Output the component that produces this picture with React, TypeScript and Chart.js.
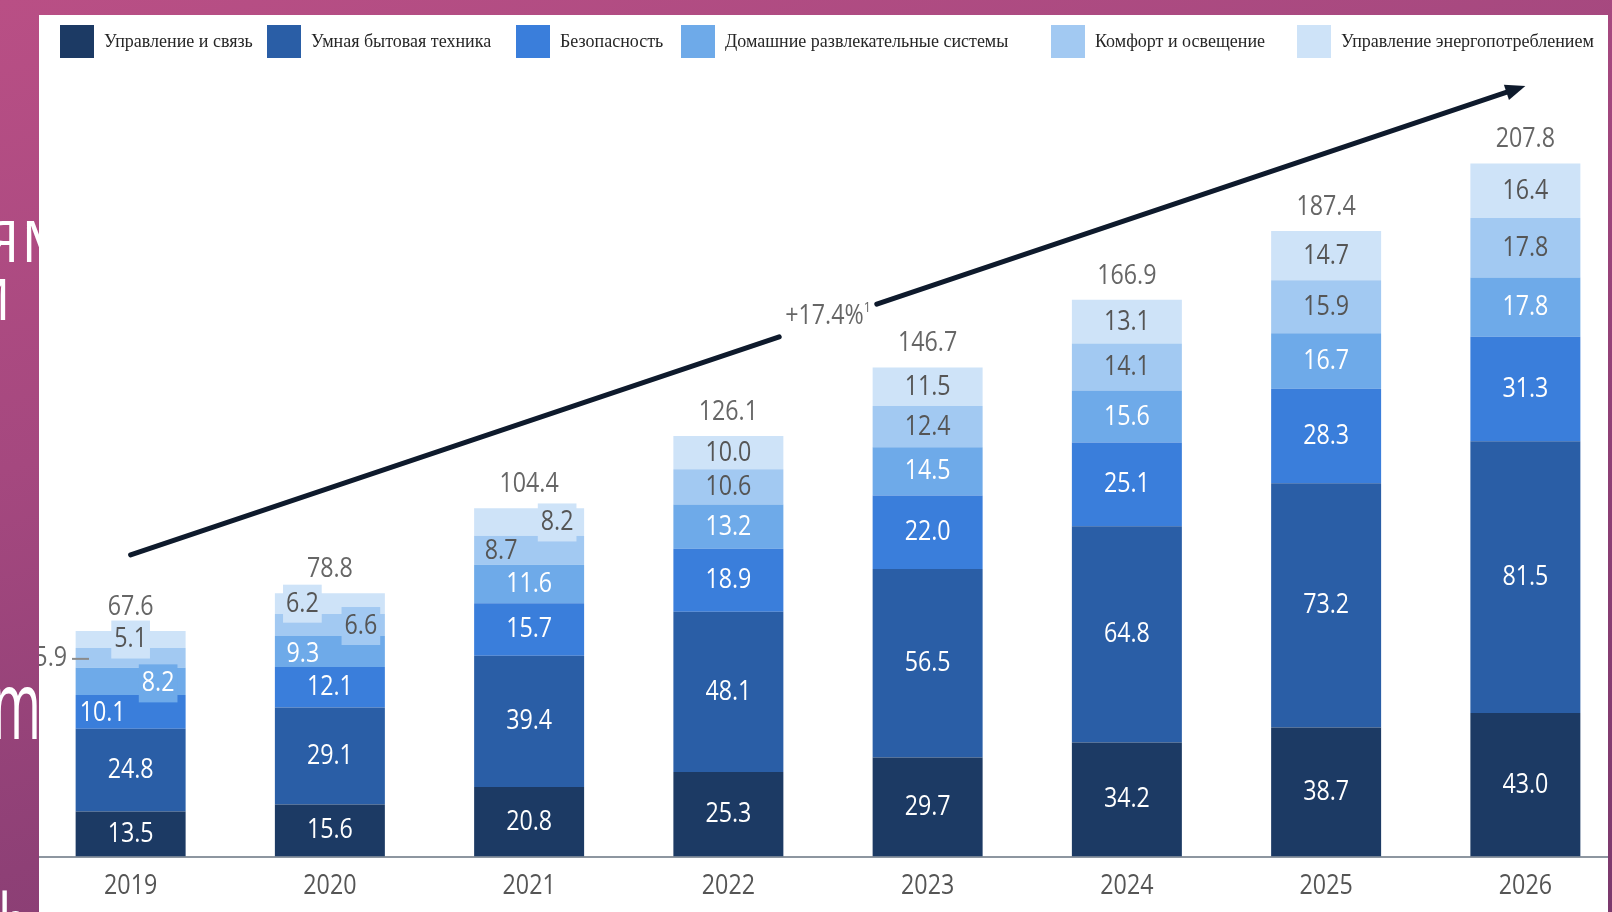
import React, { useEffect, useRef } from "react";
import { Chart, registerables } from "chart.js";

Chart.register(...registerables);

// ---------- data ----------
const YEARS = ["2019", "2020", "2021", "2022", "2023", "2024", "2025", "2026"];
const CONTROL = [13.5, 15.6, 20.8, 25.3, 29.7, 34.2, 38.7, 43.0];
const APPLIANCES = [24.8, 29.1, 39.4, 48.1, 56.5, 64.8, 73.2, 81.5];
const SECURITY = [10.1, 12.1, 15.7, 18.9, 22.0, 25.1, 28.3, 31.3];
const ENTERTAINMENT = [8.2, 9.3, 11.6, 13.2, 14.5, 15.6, 16.7, 17.8];
const COMFORT = [5.9, 6.6, 8.7, 10.6, 12.4, 14.1, 15.9, 17.8];
const ENERGY = [5.1, 6.2, 8.2, 10.0, 11.5, 13.1, 14.7, 16.4];
const TOTALS = [67.6, 78.8, 104.4, 126.1, 146.7, 166.9, 187.4, 207.8];
const SERIES_NAMES = [
  "Управление и связь",
  "Умная бытовая техника",
  "Безопасность",
  "Домашние развлекательные системы",
  "Комфорт и освещение",
  "Управление энергопотреблением",
];
const CAGR_TEXT = "+17.4%";
const CAGR_NOTE = "1";
const ARROW_START = 90.4;
const ARROW_END = 231;
const Y_MAX = 234;

// ---------- styles / layout ----------
const SERIES = [CONTROL, APPLIANCES, SECURITY, ENTERTAINMENT, COMFORT, ENERGY];
const COLORS = ["#1c3a64", "#2a5ea6", "#3a7edb", "#6eaae9", "#a2c9f2", "#cee3f8"];
const LABEL_COLORS = ["#ffffff", "#ffffff", "#ffffff", "#ffffff", "#555555", "#555555"];
const LEGEND_LEFT = [60, 267, 516, 681, 1051, 1297];
const FONT = '"Open Sans", "Noto Sans", sans-serif';
const SQUEEZE = 0.83;
const LABEL_SIZE = 28;

type Tweak = { dx?: number; dy?: number; box?: boolean; align?: CanvasTextAlign; leader?: [number, number] };
// key: yearIndex-seriesIndex
const LABEL_TWEAKS: Record<string, Tweak> = {
  "0-2": { dx: -28, dy: 1 },
  "0-3": { dx: 27.5, dy: 2, box: true },
  "0-4": { dx: -63.6, dy: 0, align: "right", leader: [-58.6, -41.6] },
  "0-5": { dx: 0, dy: 0, box: true },
  "1-3": { dx: -27, dy: 2.5 },
  "1-4": { dx: 31, dy: 1, box: true },
  "1-5": { dx: -27.5, dy: 0, box: true },
  "2-4": { dx: -28, dy: 1 },
  "2-5": { dx: 28, dy: 0.5, box: true },
};

function measure(ctx: CanvasRenderingContext2D, text: string, size: number) {
  ctx.save();
  ctx.font = `${size}px ${FONT}`;
  const w = ctx.measureText(text).width * SQUEEZE;
  ctx.restore();
  return w;
}

function drawText(
  ctx: CanvasRenderingContext2D,
  text: string,
  x: number,
  y: number,
  size: number,
  color: string,
  align: CanvasTextAlign
) {
  ctx.save();
  ctx.font = `${size}px ${FONT}`;
  ctx.fillStyle = color;
  ctx.textBaseline = "middle";
  ctx.textAlign = align;
  ctx.translate(x, y);
  ctx.scale(SQUEEZE, 1);
  ctx.fillText(text, 0, 0);
  ctx.restore();
}

const overlayPlugin = {
  id: "overlay",
  afterDatasetsDraw(chart: any) {
    const ctx: CanvasRenderingContext2D = chart.ctx;
    const xs = chart.scales.x;
    const ys = chart.scales.y;
    const LS = LABEL_SIZE;

    // segment labels
    chart.data.datasets.forEach((ds: any, i: number) => {
      const meta = chart.getDatasetMeta(i);
      meta.data.forEach((el: any, j: number) => {
        const p = el.getProps(["x", "y", "base"], true);
        const text = Number(ds.data[j]).toFixed(1);
        const tw = LABEL_TWEAKS[`${j}-${i}`] || {};
        const cx = p.x + (tw.dx || 0);
        const cy = (p.y + p.base) / 2 + (tw.dy || 0);
        const align = tw.align || "center";
        if (tw.box) {
          const w = measure(ctx, text, LS) + 6;
          ctx.fillStyle = COLORS[i];
          ctx.fillRect(cx - w / 2, cy - 19, w, 38);
        }
        if (tw.leader) {
          ctx.save();
          ctx.strokeStyle = "#8a8a8a";
          ctx.lineWidth = 2;
          ctx.beginPath();
          ctx.moveTo(p.x + tw.leader[0], cy + 1);
          ctx.lineTo(p.x + tw.leader[1], cy + 1);
          ctx.stroke();
          ctx.restore();
        }
        const color = tw.leader ? "#666666" : LABEL_COLORS[i];
        drawText(ctx, text, cx, cy, LS, color, align);
      });
    });

    // totals
    const last = chart.getDatasetMeta(SERIES.length - 1);
    last.data.forEach((el: any, j: number) => {
      drawText(ctx, TOTALS[j].toFixed(1), el.x, el.y - 24, LS, "#666666", "center");
    });

    // year labels
    YEARS.forEach((yr, j) => {
      drawText(ctx, yr, xs.getPixelForValue(j), chart.chartArea.bottom + 30, 28, "#555555", "center");
    });

    // growth arrow
    const x0 = xs.getPixelForValue(0);
    const y0 = ys.getPixelForValue(ARROW_START);
    const x1 = xs.getPixelForValue(YEARS.length - 1);
    const y1 = ys.getPixelForValue(ARROW_END);
    const dx = x1 - x0;
    const dy = y1 - y0;
    const len = Math.hypot(dx, dy);
    const ux = dx / len;
    const uy = dy / len;
    const t = 0.5;
    const lx = x0 + dx * t;
    const ly = y0 + dy * t;
    const mainW = measure(ctx, CAGR_TEXT, LS);
    const supW = measure(ctx, CAGR_NOTE, 15);
    const labelW = mainW + supW;
    const gapHalf = (labelW / 2 + 6) / ux;
    const headLen = 20;
    const headHalf = 8;

    ctx.save();
    ctx.strokeStyle = "#0e1a2c";
    ctx.fillStyle = "#0e1a2c";
    ctx.lineWidth = 5;
    ctx.lineCap = "round";
    ctx.beginPath();
    ctx.moveTo(x0, y0);
    ctx.lineTo(x0 + ux * (len * t - gapHalf), y0 + uy * (len * t - gapHalf));
    ctx.moveTo(x0 + ux * (len * t + gapHalf), y0 + uy * (len * t + gapHalf));
    ctx.lineTo(x1 - ux * (headLen - 2), y1 - uy * (headLen - 2));
    ctx.stroke();
    ctx.beginPath();
    ctx.moveTo(x1, y1);
    ctx.lineTo(x1 - ux * headLen - uy * headHalf, y1 - uy * headLen + ux * headHalf);
    ctx.lineTo(x1 - ux * headLen + uy * headHalf, y1 - uy * headLen - ux * headHalf);
    ctx.closePath();
    ctx.fill();
    ctx.restore();

    const sx = lx - labelW / 2;
    drawText(ctx, CAGR_TEXT, sx, ly - 4, LS, "#666666", "left");
    drawText(ctx, CAGR_NOTE, sx + mainW, ly - 13, 15, "#666666", "left");
  },
};

export default function App() {
  const ref = useRef<HTMLCanvasElement | null>(null);

  useEffect(() => {
    if (!ref.current) return;
    const chart = new Chart(ref.current, {
      type: "bar",
      data: {
        labels: YEARS,
        datasets: SERIES.map((d, i) => ({
          label: SERIES_NAMES[i],
          data: d,
          backgroundColor: COLORS[i],
          borderWidth: 0,
          barPercentage: 0.552,
          categoryPercentage: 1,
        })),
      },
      options: {
        responsive: false,
        animation: false,
        layout: { padding: { left: 0, right: 0, top: 61, bottom: 55.5 } },
        plugins: {
          legend: { display: false },
          tooltip: { enabled: false },
          title: { display: false },
        },
        scales: {
          x: {
            stacked: true,
            grid: { display: false, drawTicks: false },
            border: { display: true, color: "#8d96a0", width: 2 },
            ticks: { display: false },
          },
          y: {
            stacked: true,
            display: false,
            min: 0,
            max: Y_MAX,
          },
        },
      },
      plugins: [overlayPlugin],
    });
    return () => chart.destroy();
  }, []);

  const white = "#ffffff";
  return (
    <div
      style={{
        position: "absolute",
        left: 0,
        top: 0,
        width: 1612,
        height: 912,
        overflow: "hidden",
        background: "linear-gradient(165deg, #b94f85 0%, #a5487f 35%, #8e4076 65%, #7b396d 100%)",
        fontFamily: FONT,
      }}
    >
      <span style={{ position: "absolute", left: -16, top: 212, fontSize: 56, lineHeight: 1, color: white, letterSpacing: 2 }}>
        ЯМ
      </span>
      <span style={{ position: "absolute", left: -32, top: 270, fontSize: 56, lineHeight: 1, color: white }}>И</span>
      <span
        style={{
          position: "absolute",
          left: -8,
          top: 654,
          fontSize: 96,
          lineHeight: 1,
          color: white,
          transform: "scaleX(0.55)",
          transformOrigin: "left top",
        }}
      >
        m
      </span>
      <span
        style={{
          position: "absolute",
          left: -2,
          top: 878,
          fontSize: 96,
          lineHeight: 1,
          color: white,
          transform: "scaleX(0.55)",
          transformOrigin: "left top",
        }}
      >
        b
      </span>
      <div
        style={{
          position: "absolute",
          left: 39,
          top: 15,
          width: 1569,
          height: 897,
          background: white,
          overflow: "hidden",
        }}
      >
        <canvas
          ref={ref}
          width={1594}
          height={897}
          style={{ position: "absolute", left: -8, top: 0, width: 1594, height: 897 }}
        />
      </div>
      {SERIES_NAMES.map((name, i) => (
        <div
          key={name}
          style={{
            position: "absolute",
            left: LEGEND_LEFT[i],
            top: 24,
            height: 34,
            display: "flex",
            alignItems: "center",
            whiteSpace: "nowrap",
          }}
        >
          <div style={{ width: 34, height: 33, background: COLORS[i], marginRight: 10 }} />
          <span
            style={{
              fontFamily: '"Liberation Serif", "DejaVu Serif", serif',
              fontSize: 18,
              color: "#262626",
            }}
          >
            {name}
          </span>
        </div>
      ))}
    </div>
  );
}
